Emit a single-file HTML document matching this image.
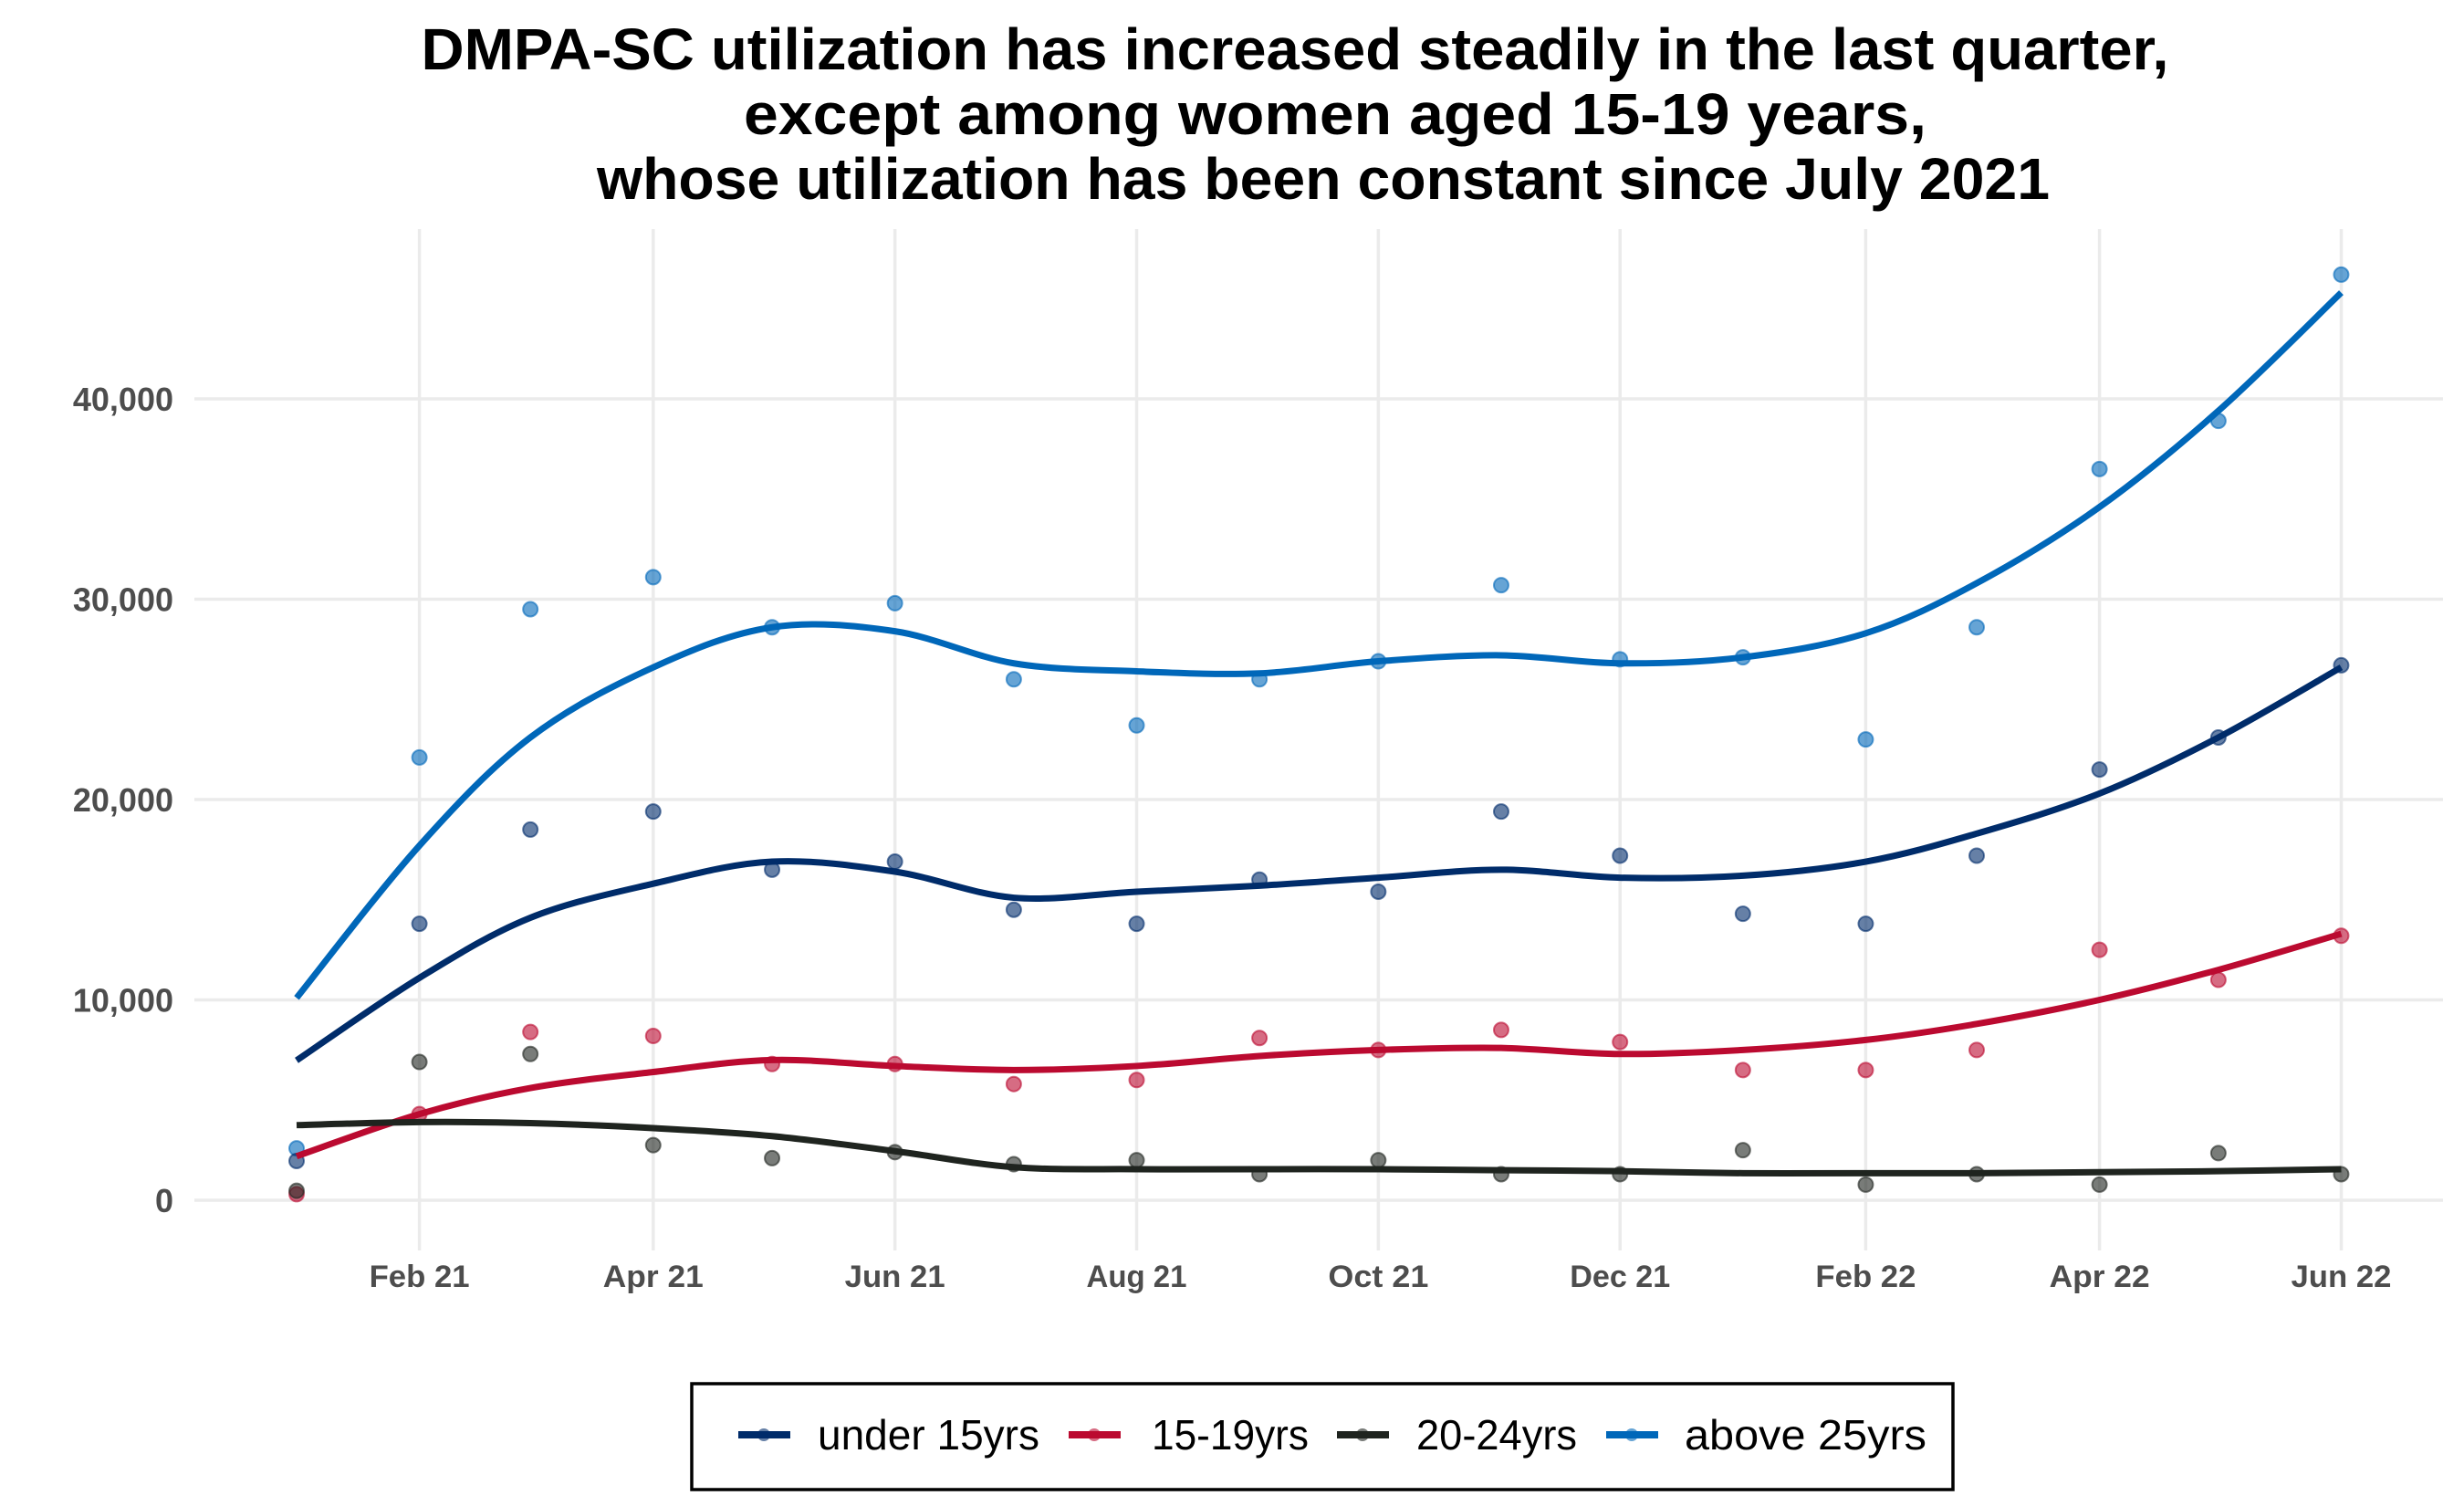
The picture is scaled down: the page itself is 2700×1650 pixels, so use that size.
<!DOCTYPE html>
<html><head><meta charset="utf-8"><style>
html,body{margin:0;padding:0;background:#fff;}
svg{display:block;font-family:"Liberation Sans",sans-serif;}
</style></head><body>
<svg id="chart" width="2700" height="1650" viewBox="0 0 2700 1650" xmlns="http://www.w3.org/2000/svg">
<g font-weight="bold" font-size="64" fill="#000" text-anchor="middle">
<text x="1419" y="76" textLength="1915" lengthAdjust="spacingAndGlyphs">DMPA-SC utilization has increased steadily in the last quarter,</text>
<text x="1463" y="147" textLength="1296" lengthAdjust="spacingAndGlyphs">except among women aged 15-19 years,</text>
<text x="1450" y="218" textLength="1592" lengthAdjust="spacingAndGlyphs">whose utilization has been constant since July 2021</text>
</g>
<g id="grid"></g>
<g id="axes"></g>
<g id="series"></g>
<g>
<rect x="758" y="1516" width="1382" height="116" fill="#fff" stroke="#000" stroke-width="3.5"/>
<g><line x1="809" y1="1572" x2="866" y2="1572" stroke="#002c6a" stroke-width="8"/><circle cx="837" cy="1572" r="7" fill="#002c6a" fill-opacity="0.6"/><text x="896" y="1588" font-size="46" textLength="243" lengthAdjust="spacingAndGlyphs">under 15yrs</text></g>
<g><line x1="1171" y1="1572" x2="1228" y2="1572" stroke="#bb0a30" stroke-width="8"/><circle cx="1199" cy="1572" r="7" fill="#bb0a30" fill-opacity="0.6"/><text x="1262" y="1588" font-size="46" textLength="172" lengthAdjust="spacingAndGlyphs">15-19yrs</text></g>
<g><line x1="1465" y1="1572" x2="1522" y2="1572" stroke="#1f241f" stroke-width="8"/><circle cx="1493" cy="1572" r="7" fill="#1f241f" fill-opacity="0.6"/><text x="1552" y="1588" font-size="46" textLength="176" lengthAdjust="spacingAndGlyphs">20-24yrs</text></g>
<g><line x1="1760" y1="1572" x2="1817" y2="1572" stroke="#0067b9" stroke-width="8"/><circle cx="1788" cy="1572" r="7" fill="#0067b9" fill-opacity="0.6"/><text x="1846" y="1588" font-size="46" textLength="265" lengthAdjust="spacingAndGlyphs">above 25yrs</text></g>
</g>
</svg>
<script>
const months = ["2021-01","2021-02","2021-03","2021-04","2021-05","2021-06","2021-07","2021-08","2021-09","2021-10","2021-11","2021-12","2022-01","2022-02","2022-03","2022-04","2022-05","2022-06"];
const under15 = [1960,13800,18500,19400,16500,16900,14500,13800,16000,15400,19400,17200,14300,13800,17200,21500,23100,26700];
const age1519 = [300,4300,8400,8200,6800,6800,5800,6000,8100,7500,8500,7900,6500,6500,7500,12500,11000,13200];
const age2024 = [470,6900,7300,2750,2100,2400,1800,2000,1300,2000,1300,1300,2500,780,1300,780,2350,1300];
const above25 = [2590,22100,29500,31100,28600,29800,26000,23700,26000,26900,30700,27000,27100,23000,28600,36500,38900,46200];
const under15Fit = [6980,11100,14100,15800,16900,16400,15100,15400,15700,16100,16500,16100,16200,16900,18300,20300,23100,26600];
const age1519Fit = [2200,4300,5600,6400,7000,6700,6500,6700,7200,7500,7600,7300,7500,8000,8800,10000,11500,13300];
const age2024Fit = [3750,3900,3850,3600,3200,2450,1650,1550,1550,1550,1500,1450,1350,1350,1350,1400,1450,1550];
const above25Fit = [10100,17700,23100,26600,28600,28400,26800,26400,26300,26900,27200,26800,27100,28300,30800,34600,39400,45300];
const yTicks = [0,10000,20000,30000,40000];
const yTickLabels = ["0","10,000","20,000","30,000","40,000"];
const xTicks = ["2021-02","2021-04","2021-06","2021-08","2021-10","2021-12","2022-02","2022-04","2022-06"];
const xTickLabels = ["Feb 21","Apr 21","Jun 21","Aug 21","Oct 21","Dec 21","Feb 22","Apr 22","Jun 22"];

const NS="http://www.w3.org/2000/svg";
const t0=Date.UTC(2021,0,1);
function day(m){const p=m.split("-");return (Date.UTC(+p[0],+p[1]-1,1)-t0)/864e5;}
function xs(m){return 325+day(m)*4.342;}
function ys(v){return 1315-v*0.02195;}
function mk(tag,attrs,parent){const e=document.createElementNS(NS,tag);for(const k in attrs)e.setAttribute(k,attrs[k]);parent.appendChild(e);return e;}

const grid=document.getElementById('grid'), axes=document.getElementById('axes'), series=document.getElementById('series');
yTicks.forEach((v,i)=>{
  const l=mk('line',{x1:213,x2:2677,y1:ys(v),y2:ys(v),stroke:'#ebebeb','stroke-width':3.5},grid);
  
  
  const t=mk('text',{x:190,y:ys(v)+13,'text-anchor':'end','font-size':36,'font-weight':'bold',fill:'#4d4d4d'},axes);
  t.textContent=yTickLabels[i];
  
  
});
xTicks.forEach((m,i)=>{
  const l=mk('line',{x1:xs(m),x2:xs(m),y1:251,y2:1370,stroke:'#ebebeb','stroke-width':3.5},grid);
  
  
  const t=mk('text',{x:xs(m),y:1410,'text-anchor':'middle','font-size':34,'font-weight':'bold',fill:'#4d4d4d',textLength:110,lengthAdjust:'spacingAndGlyphs'},axes);
  t.textContent=xTickLabels[i];
  
  
});
function smoothPath(vals){
  const p=vals.map((v,i)=>[xs(months[i]),ys(v)]);
  let d='M'+p[0][0]+','+p[0][1];
  for(let i=0;i<p.length-1;i++){
    const a=p[Math.max(0,i-1)],b=p[i],c=p[i+1],e=p[Math.min(p.length-1,i+2)];
    const c1=[b[0]+(c[0]-a[0])/6,b[1]+(c[1]-a[1])/6], c2=[c[0]-(e[0]-b[0])/6,c[1]-(e[1]-b[1])/6];
    d+=' C'+c1[0]+','+c1[1]+' '+c2[0]+','+c2[1]+' '+c[0]+','+c[1];
  }
  return d;
}
const defs=[
  ['above-25',above25,above25Fit,'#0067b9'],
  ['under-15',under15,under15Fit,'#002c6a'],
  ['15-19',age1519,age1519Fit,'#bb0a30'],
  ['20-24',age2024,age2024Fit,'#1f241f']
];
defs.forEach(([n,pts,fit,col])=>{
  const g=mk('g',{},series);
  
  
  pts.forEach((v,i)=>{
    const c=mk('circle',{cx:xs(months[i]),cy:ys(v),r:8,fill:col,'fill-opacity':0.6,stroke:col,'stroke-opacity':0.6,'stroke-width':2},g);
    
    
  });
  const p=mk('path',{d:smoothPath(fit),fill:'none',stroke:col,'stroke-width':7},g);
  
  
});
</script>
</body></html>
